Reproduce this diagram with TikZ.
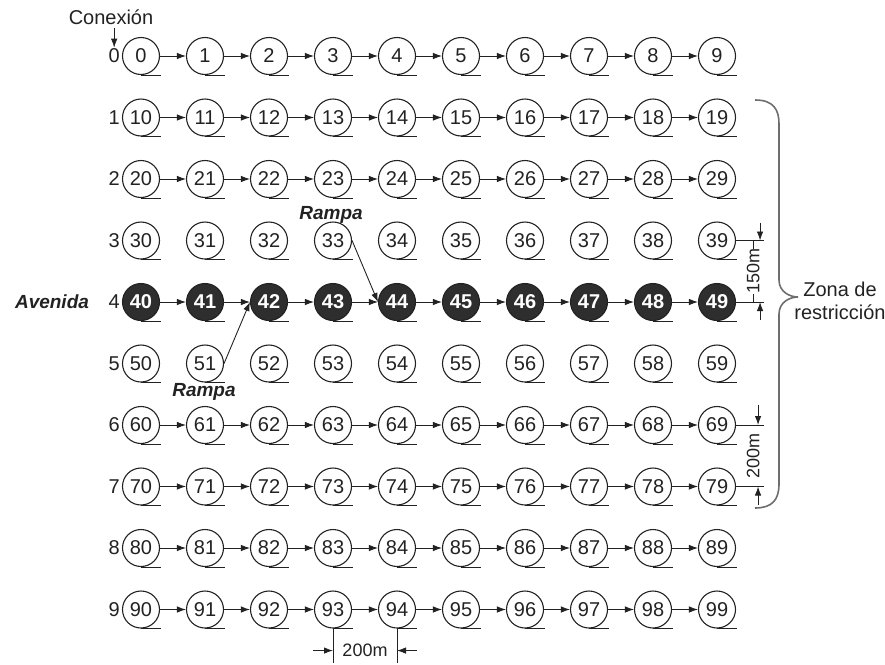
\documentclass[tikz,border=0pt]{standalone}
\usepackage{fontspec}
\setmainfont{Liberation Sans}
\usetikzlibrary{arrows.meta,positioning}
\definecolor{ink}{HTML}{222222}
\definecolor{avenue}{HTML}{2E2E2E}
\definecolor{bracegrey}{HTML}{6E6E6E}

\begin{document}
\begin{tikzpicture}[x=1pt, y=-1pt]
  \def\X{141}     % centre of column 0
  \def\dx{64}     % column pitch
  \def\Y{56}      % centre of row 0
  \def\dy{61.5}   % row pitch
  \useasboundingbox (0,0) rectangle (885,664);
  \tikzset{
    txt/.style={font=\fontsize{20pt}{23pt}\selectfont, text=ink},
    stop/.style={txt, circle, draw=ink, line width=1.1pt, minimum size=37pt,
                 inner sep=0pt},
    avenue/.style={stop, fill=avenue, text=white,
                   font=\fontsize{20pt}{23pt}\selectfont\bfseries},
    rowlab/.style={txt, inner sep=1pt},
    tag/.style={font=\fontsize{19pt}{23pt}\selectfont\bfseries\itshape, text=ink},
    dimlab/.style={font=\fontsize{18pt}{22pt}\selectfont, text=ink},
    tail/.style={ink, line width=1.1pt},
    arr/.style={ink, line width=0.9pt, -{Latex[length=9pt,width=6.5pt]}},
    thin/.style={ink, line width=0.9pt}}

  % ========== the grid of stops, one row per street ==========
  \foreach \r in {0,...,9}{
    \foreach \c in {0,...,9}{
      \pgfmathtruncatemacro{\k}{10*\r+\c}
      \ifnum\r=4 \def\sty{avenue}\else\def\sty{stop}\fi
      \node[\sty] (n\r\c) at ({\X+\c*\dx},{\Y+\r*\dy}) {\k};
      \draw[tail] (n\r\c.south) -- ++(20,0);
    }
    \node[rowlab, left=1pt of n\r0] (r\r) {\r};
  }

  % links along each street (rows 3 and 5 have none)
  \foreach \r in {0,1,2,4,6,7,8,9}{
    \foreach \c [evaluate=\c as \d using int(\c+1)] in {0,...,8}
      \draw[arr] (n\r\c) -- (n\r\d);
  }

  % --- the two ramps onto the avenue ---
  \draw[arr] (n33.east) -- (n44.west);
  \draw[arr] (n51.east) -- (n42.west);
  \node[tag] (rampup) at (331,215) {Rampa};
  \node[tag] (rampdn) at (204,392) {Rampa};
  \node[tag] (avenida) at (52,302) {Avenida};

  % --- the entry point ---
  \node[txt] (conexion) at (111,17) {Conexión};
  \draw[arr] (conexion.south -| r0) -- (r0.north);

  % ========== dimensions ==========
  % 150m between rows 3 and 4
  \draw[thin] (n39.east) -- ++(28,0) coordinate (e39);
  \draw[thin] (n49.east) -- ++(28,0) coordinate (e49);
  \coordinate (t39) at ([xshift=-4pt]e39);
  \coordinate (t49) at ([xshift=-4pt]e49);
  \draw[arr] ([yshift=18pt]t39) -- (t39);
  \draw[arr] ([yshift=-18pt]t49) -- (t49);
  \draw[thin] ([xshift=-11pt]e39) -- ([xshift=-11pt]e49)
    node[dimlab, midway, fill=white, inner sep=0pt, rotate=90] (d150) {150m};

  % 200m between rows 6 and 7
  \draw[thin] (n69.east) -- ++(28,0) coordinate (e69);
  \draw[thin] (n79.east) -- ++(28,0) coordinate (e79);
  \coordinate (t69) at ([xshift=-6pt]e69);
  \coordinate (t79) at ([xshift=-6pt]e79);
  \draw[arr] ([yshift=20pt]t69) -- (t69);
  \draw[arr] ([yshift=-18pt]t79) -- (t79);
  \path ([xshift=-11pt]e69) -- ([xshift=-11pt]e79)
    node[dimlab, midway, rotate=90] (d200v) {200m};

  % 200m between columns 3 and 4, under the last row
  \draw[thin] (n93.south) -- ++(0,34) coordinate (b93);
  \draw[thin] (n94.south) -- ++(0,34) coordinate (b94);
  \coordinate (a93) at ([yshift=12pt]b93);
  \coordinate (a94) at ([yshift=12pt]b94);
  \draw[arr] ([xshift=-20pt]a93) -- (a93);
  \draw[arr] ([xshift=20pt]a94) -- (a94);
  \path (a93) -- (a94) node[dimlab, midway] (d200h) {200m};

  % ========== the restricted zone ==========
  \draw[bracegrey, line width=1.6pt]
    (755,100) .. controls (774,100) and (779,110) .. (779,124) -- (779,280)
    .. controls (779,292) and (790,297) .. (798,297)
    .. controls (790,297) and (779,302) .. (779,314) -- (779,484)
    .. controls (779,500) and (772,508) .. (755,508);
  \node[txt, align=center] (zona) at (840,301) {Zona de\\restricción};
\end{tikzpicture}
\end{document}
